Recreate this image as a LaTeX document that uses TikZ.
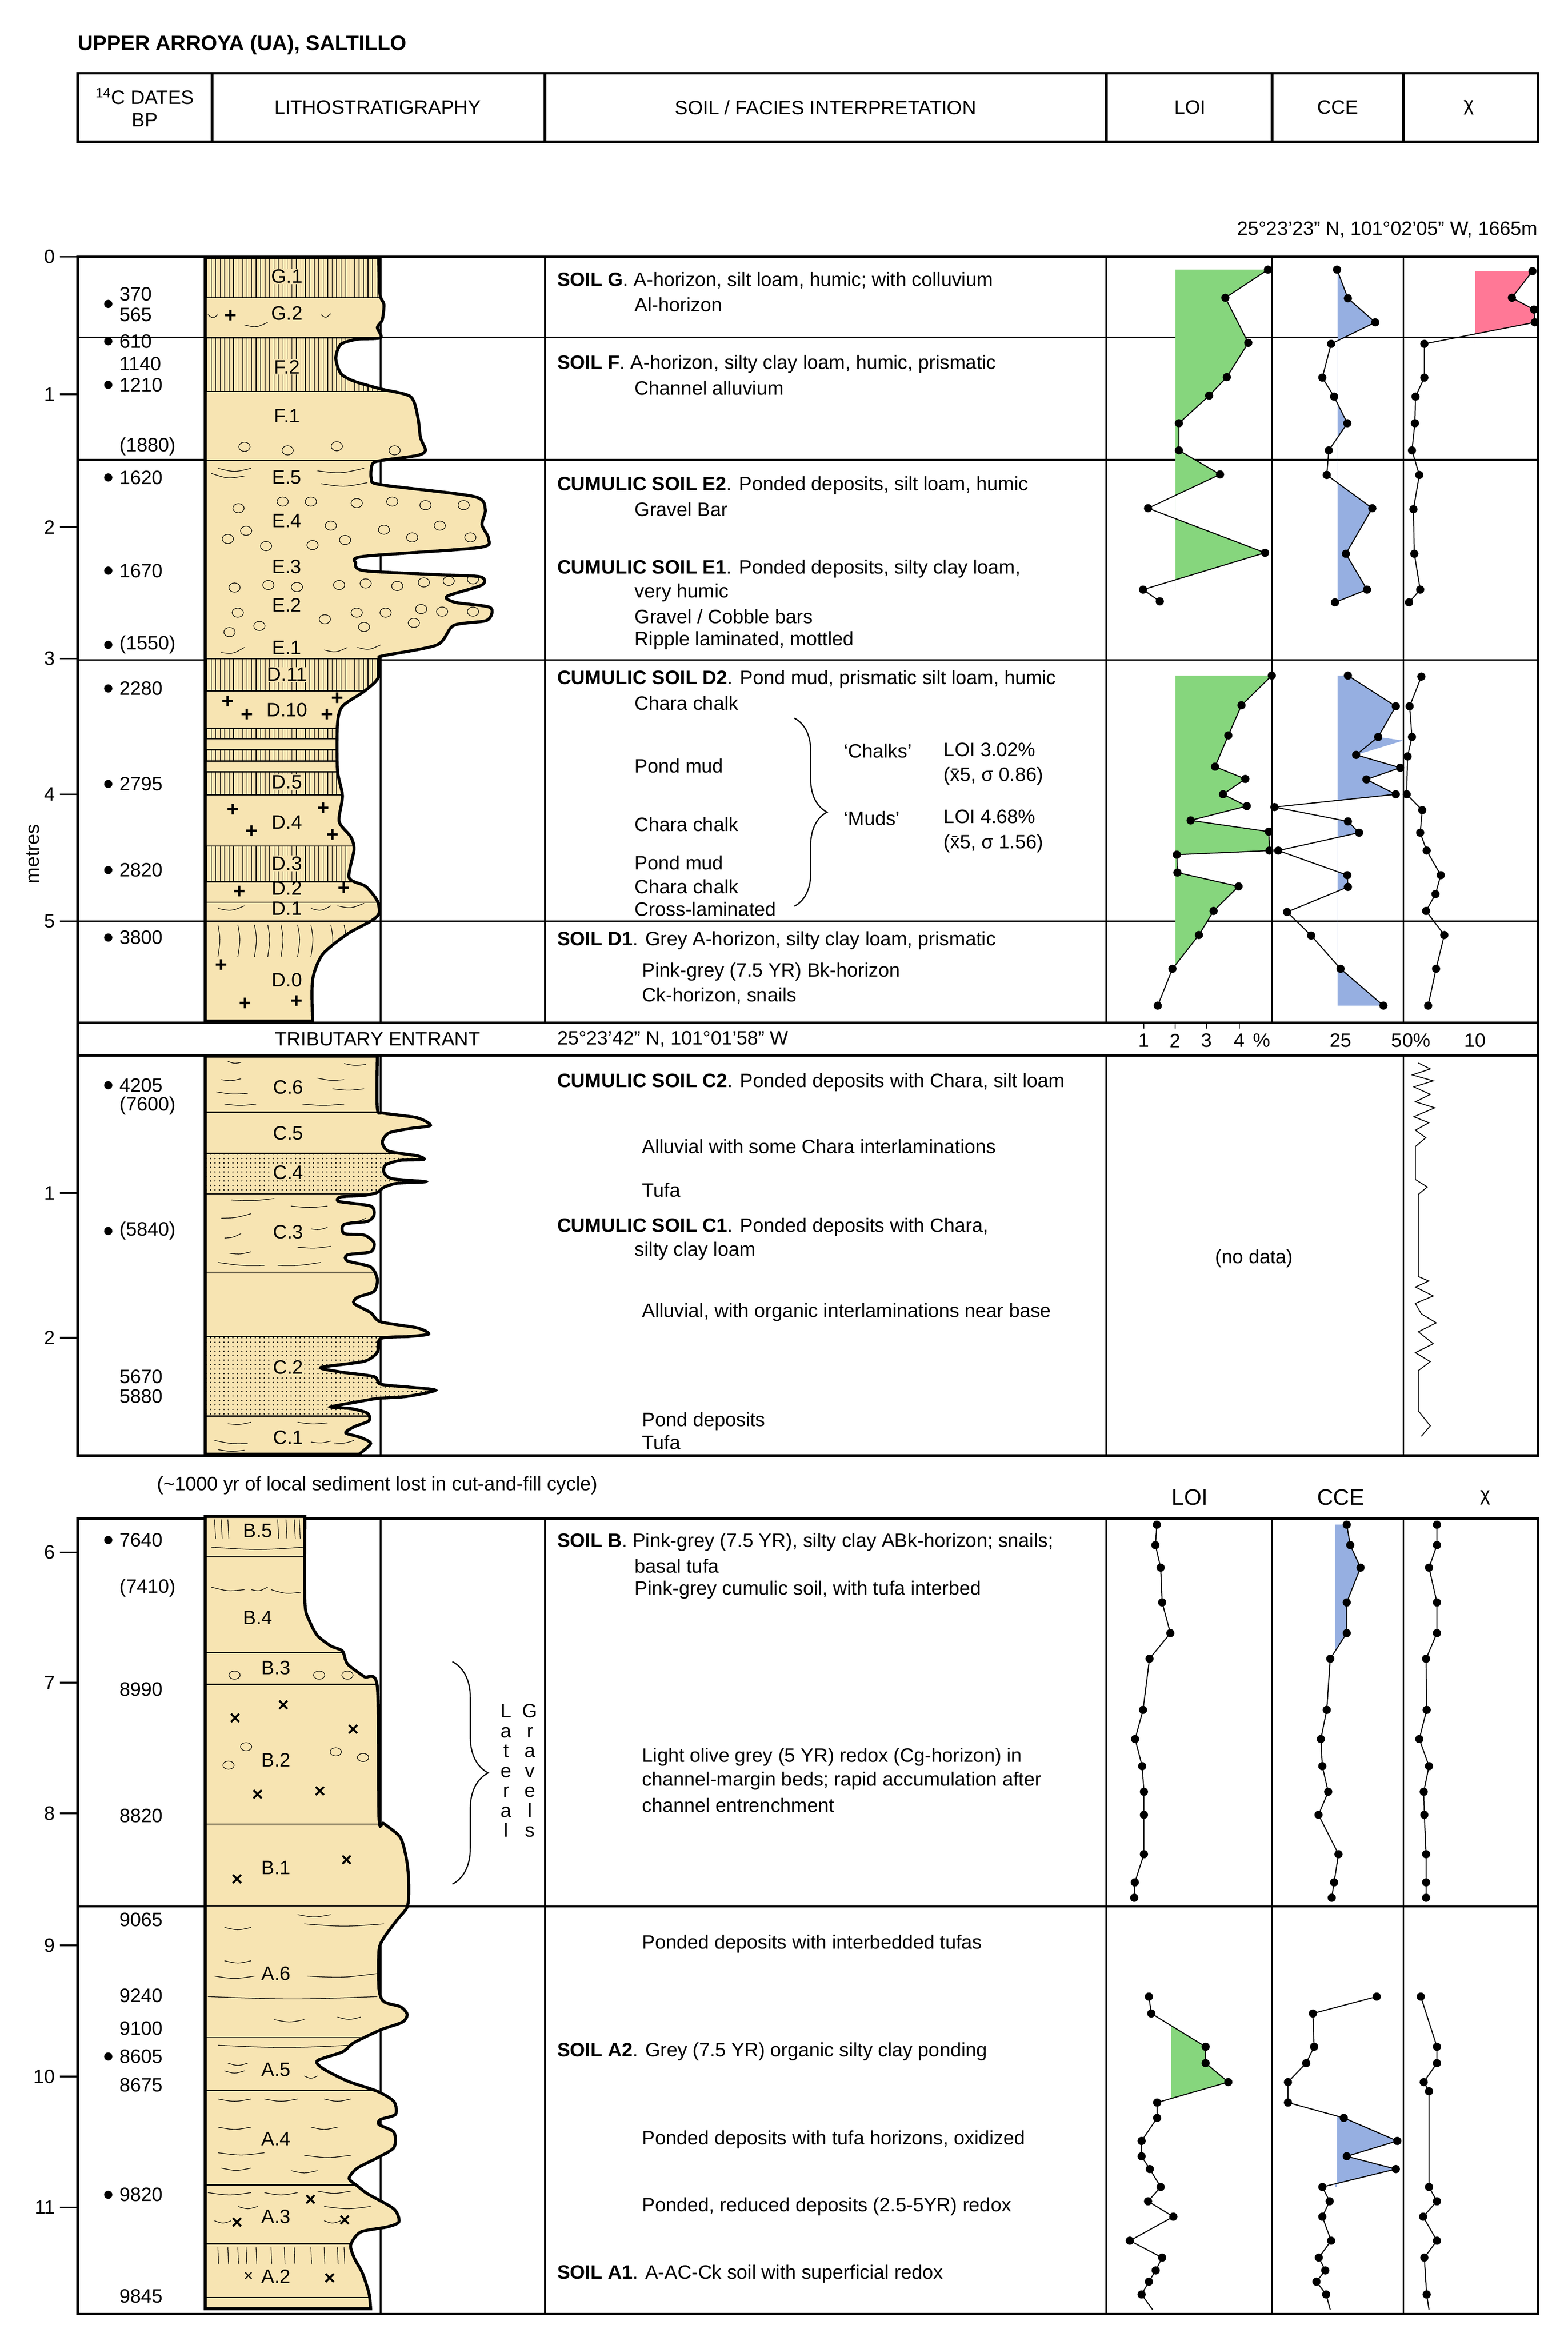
\documentclass[tikz,border=0pt]{standalone}
\usepackage{fontspec}
\setmainfont{Liberation Sans}
\usetikzlibrary{patterns,decorations.pathreplacing,calc}
\definecolor{sand}{RGB}{247,228,178}
\definecolor{gr}{RGB}{134,214,125}
\definecolor{bl}{RGB}{150,175,225}
\definecolor{pk}{RGB}{255,120,150}
\tikzset{
 zA/.style={shift={(43.6,162.8)},xscale=0.22247,yscale=0.34282},
 zB/.style={shift={(741,162.8)},xscale=0.19685,yscale=0.34282},
 zC/.style={shift={(741,1011.6)},xscale=0.19685,yscale=0.34282},
 zD/.style={shift={(43.6,1011.6)},xscale=0.22247,yscale=0.34282},
 zE/.style={shift={(43.6,677.3)},xscale=0.22247,yscale=0.20392},
 pl/.style={line width=0.7pt},
 dot/.style={circle,fill=black,inner sep=0pt,minimum size=5.5pt},
 frame/.style={line width=1.7pt},
 grd/.style={line width=1.1pt},
 lay/.style={line width=0.8pt},
 outl/.style={line width=2pt},
 t/.style={anchor=west,inner sep=0pt,font=\fontsize{13}{15}\selectfont},
 tc/.style={inner sep=0pt,font=\fontsize{13}{15}\selectfont},
 lab/.style={fill=sand,inner sep=0.6pt,font=\fontsize{13}{15}\selectfont},
 pls/.style={inner sep=0pt,font=\fontsize{14}{14}\selectfont\bfseries},
 crs/.style={inner sep=0pt,font=\fontsize{13}{13}\selectfont\bfseries},
 wv/.style={line width=0.4pt},
}
\newcommand\dl[2]{\draw[pl] #1 \foreach \q in {#2}{-- \q}; \foreach \q in {#1,#2} \node[dot] at \q {};}
\begin{document}
\begin{tikzpicture}[x=1pt,y=-1pt]
\useasboundingbox (0,0) rectangle (1050,1568);
\fill[white] (0,0) rectangle (1050,1568);
\node[t,font=\fontsize{14}{16}\selectfont\bfseries] (title) at (52,30) {UPPER ARROYA (UA), SALTILLO};
\draw[frame] (52,49) rectangle (1030,95);
\foreach \x in {142,365,741,852,940} \draw[frame] (\x,49) -- (\x,95);
\node[tc,align=center] (h1) at (97,72) {\textsuperscript{14}C DATES\\BP};
\node[tc] (h2) at (253,72) {LITHOSTRATIGRAPHY};
\node[tc] (h3) at (553,72) {SOIL / FACIES INTERPRETATION};
\node[tc] (h4) at (797,72) {LOI};
\node[tc] (h5) at (896,72) {CCE};
\node[tc] (h6) at (984,72) {χ};
\node[tc,anchor=east] (loc1) at (1030,154) {25°23'23" N, 101°02'05" W, 1665m};
\foreach \y in {226,308,442,617} \draw[grd] (52,\y) -- (1030,\y);
\foreach \x in {255,365,741,852,940} \draw[grd] (\x,172) -- (\x,685);
\draw[frame] (52,172) rectangle (1030,685);
\draw[frame] (52,685) rectangle (1030,707);
\foreach \y/\l in {172/0,264/1,353/2,441/3,532/4,617/5} {\draw[grd] (40,\y) -- (52,\y); \node[tc,anchor=east] at (37,\y) {\l};}
\node[tc,rotate=90] (metres) at (22,572) {metres};
\def\colA{(422,28) -- plot[smooth,tension=0.45] coordinates {(945,28) (948,100) (960,120) (955,150) (940,165) (950,185) (880,188) (830,198) (815,225) (830,255) (870,270) (950,285) (1040,300) (1062,340) (1070,380) (1085,405) (1060,415) (950,425) (925,432) (922,460) (950,472) (1230,495) (1265,520) (1255,550) (1275,578) (1245,595) (900,612) (875,625) (900,640) (1130,648) (1250,652) (1255,668) (1150,690) (1175,702) (1280,712) (1270,737) (1170,747) (1120,785) (960,806) (945,812) (942,850) (900,876) (835,905) (820,940) (820,1030) (835,1080) (825,1130) (860,1160) (870,1185) (855,1240) (905,1257) (940,1285) (945,1310) (920,1325) (850,1350) (775,1390) (745,1440) (745,1520)} -- (422,1520) -- cycle}
\begin{scope}[zA]
\fill[sand] \colA;
\begin{scope}
\clip \colA;
\foreach \a/\b in {28/107,185/290,812/875,948/968,990/1012,1033/1078,1178/1248}
  \fill[pattern=vertical lines] (422,\a) rectangle (1300,\b);
\foreach \y in {107,185,290,425,812,875,948,968,990,1012,1033,1078,1178,1248,1288,1325}
  \draw[lay] (422,\y) -- (1300,\y);
\foreach \p in {(540,398),(670,405),(818,397),(992,405),(522,518),(655,505),(740,505),(878,508),(985,505),(1085,512),(1200,512),(490,578),(545,562),(605,592),(745,590),(800,552),(843,580),(960,560),(1045,575),(1128,552),(1220,575),(510,673),(612,668),(698,672),(825,668),(905,665),(1000,670),(1080,663),(1155,660),(1228,657),(520,722),(585,748),(495,760),(782,735),(878,722),(965,722),(1050,742),(1135,720),(1228,720),(900,750),(1072,715)}
  \draw[wv] \p ellipse [x radius=17, y radius=9];
\foreach \a/\b/\c/\d in {440/450/540/455,460/440/560/440,760/445/900/440,770/470/910/468,430/140/460/140,540/160/610/155,770/140/800/138,470/800/540/790,780/795/850/790,880/790/950/785,460/1300/540/1295,740/1300/800/1295,820/1295/900/1290}
  \draw[wv] (\a,\b) .. controls ($(\a,\b)!0.5!(\c,\d)+(0,8)$) .. (\c,\d);
\foreach \x in {460,520,570,610,650,700,740,800,840}
  \draw[wv] (\x,1332) .. controls (\x+8,1360) .. (\x,1395);
\end{scope}
\draw[outl] \colA;
\foreach \n/\x/\y in {G.1/668/65,F.2/668/242,D.11/668/843,D.5/668/1053,D.3/668/1212}
  \node[lab] at (\x,\y) {\n};
\foreach \n/\x/\y in {G.2/668/137,F.1/668/338,E.5/668/458,E.4/668/543,E.3/668/632,E.2/668/707,E.1/668/790,D.10/668/912,D.4/668/1132,D.2/668/1260,D.1/668/1300,D.0/668/1440}
  \node[tc] at (\x,\y) {\n};
\foreach \p in {(498,143),(490,897),(548,922),(820,890),(788,922),(505,1108),(562,1150),(778,1105),(805,1157),(525,1268),(840,1262),(470,1412),(542,1487),(697,1482)}
  \node[pls] at \p {+};
\end{scope}
\foreach \y/\l in {197.1/370,210.8/565,228.6/610,243.7/1140,257.8/1210,299.2/(1880),319.8/1620,382.2/1670,431.9/(1550),461.1/2280,525.1/2795,582.8/2820,628/3800}
  \node[t] at (80,\y) {\l};
\foreach \y in {203.6,228.6,257.8,319.8,382.2,431.9,461.1,525.1,582.8,628}
  \node[dot] at (72.5,\y) {};
\begin{scope}[zB]
\begin{scope}
\clip (235,0) rectangle (565,1520);
\fill[gr] (235,52) \foreach \q in {(550,52),(405,107),(483,195),(410,262),(350,298),(247,352),(247,405),(387,452),(142,518),(540,605),(125,677)}{-- \q} -- (235,677) -- cycle;
\fill[gr] (230,845) \foreach \q in {(563,845),(460,903),(415,962),(370,1023),(473,1047),(397,1077),(478,1100),(287,1128),(553,1150),(555,1187),(240,1195),(242,1230),(450,1257),(365,1305),(315,1352),(225,1418)}{-- \q} -- (230,1418) -- cycle;
\end{scope}
\begin{scope}
\clip (787,0) rectangle (1015,1520);
\fill[bl] (787,52) \foreach \q in {(785,52),(822,108),(915,155),(765,197),(735,263),(775,300),(820,352),(757,405),(750,453),(905,518),(815,607),(887,677),(778,702)}{-- \q} -- (787,702) -- cycle;
\fill[bl] (787,845) \foreach \q in {(822,845),(985,905),(925,965),(1010,972),(850,1000),(1000,1025),(885,1048),(985,1077),(572,1102),(822,1130),(860,1152),(585,1187),(820,1235),(822,1258),(615,1307),(697,1353),(797,1418),(943,1490)}{-- \q} -- (787,1490) -- cycle;
\end{scope}
\begin{scope}
\clip (1255,0) rectangle (1460,300);
\fill[pk] (1255,55) \foreach \q in {(1450,55),(1380,107),(1455,130),(1458,155),(1082,197)}{-- \q} -- (1255,197) -- cycle;
\end{scope}
\dl{(550,52)}{(405,107),(483,195),(410,262),(350,298),(247,352),(247,405),(387,452),(142,518),(540,605),(125,677),(182,700)}
\dl{(563,845)}{(460,903),(415,962),(370,1023),(473,1047),(397,1077),(478,1100),(287,1128),(553,1150),(555,1187),(240,1195),(242,1230),(450,1257),(365,1305),(315,1352),(225,1418),(175,1490)}
\dl{(785,52)}{(822,108),(915,155),(765,197),(735,263),(775,300),(820,352),(757,405),(750,453),(905,518),(815,607),(887,677),(778,702)}
\dl{(822,845)}{(985,905),(925,965),(850,1000),(1000,1025),(885,1048),(985,1077),(572,1102),(822,1130),(860,1152),(585,1187),(820,1235),(822,1258),(615,1307),(697,1353),(797,1418),(943,1490)}
\dl{(1450,55)}{(1380,107),(1455,130),(1458,155),(1082,197),(1082,263),(1052,300),(1050,352),(1040,405),(1065,453),(1045,520),(1048,607),(1068,677),(1030,702)}
\dl{(1072,847)}{(1032,905),(1040,965),(1025,1003),(1022,1077),(1075,1108),(1068,1152),(1090,1187),(1138,1235),(1120,1272),(1088,1305),(1150,1352),(1122,1418),(1095,1490)}
\end{scope}
\node[t] at (373,188) {\textbf{SOIL G}. A-horizon, silt loam, humic; with colluvium};
\node[t] at (425,204) {Al-horizon};
\node[t] at (373,244) {\textbf{SOIL F}. A-horizon, silty clay loam, humic, prismatic};
\node[t] at (425,260) {Channel alluvium};
\node[t] at (373,325) {\textbf{CUMULIC SOIL E2}. Ponded deposits, silt loam, humic};
\node[t] at (425,341) {Gravel Bar};
\node[t] at (373,381) {\textbf{CUMULIC SOIL E1}. Ponded deposits, silty clay loam,};
\node[t] at (425,397) {very humic};
\node[t] at (425,413) {Gravel / Cobble bars};
\node[t] at (425,429) {Ripple laminated, mottled};
\node[t] at (373,455) {\textbf{CUMULIC SOIL D2}. Pond mud, prismatic silt loam, humic};
\node[t] at (425,471) {Chara chalk};
\node[t] at (425,513) {Pond mud};
\node[t] at (425,552) {Chara chalk};
\node[t] at (425,578) {Pond mud};
\node[t] at (425,594) {Chara chalk};
\node[t] at (425,609) {Cross-laminated};
\draw[line width=0.8pt,decorate,decoration={brace,amplitude=22pt}] (532,481) -- (532,607);
\node[t] at (565,503) {‘Chalks’};
\node[t] at (565,548) {‘Muds’};
\node[t] at (632,502) {LOI 3.02\%};
\node[t] at (632,520) {(x̄5, σ 0.86)};
\node[t] at (632,547) {LOI 4.68\%};
\node[t] at (632,565) {(x̄5, σ 1.56)};
\node[t] at (373,630) {\textbf{SOIL D1}. Grey A-horizon, silty clay loam, prismatic};
\node[t] at (430,651) {Pink-grey (7.5 YR) Bk-horizon};
\node[t] at (430,667) {Ck-horizon, snails};
\node[tc] at (253,696) {TRIBUTARY ENTRANT};
\node[t] at (373,696) {25°23'42" N, 101°01'58" W};
\foreach \x/\l in {766/1,787/2,808/3,830/4}{\node[tc] at (\x,697) {\l}; \draw[line width=0.6pt] (\x,685) -- (\x,689);}
\node[tc] at (845,697) {\%};
\node[tc] at (898,697) {25};
\node[tc] at (945,697) {50\%};
\node[tc] at (988,697) {10};
\draw[grd] (255,707) -- (255,975);
\draw[grd] (741,707) -- (741,975);
\draw[grd] (940,707) -- (940,975);
\draw[frame] (52,707) rectangle (1030,975);
\foreach \y/\l in {799/1,896/2} {\draw[grd] (40,\y) -- (52,\y); \node[tc,anchor=east] at (37,\y) {\l};}
\def\colB{(422,148) -- plot[smooth,tension=0.45] coordinates {(940,148) (940,320) (960,335) (1060,350) (1100,375) (1040,385) (975,400) (955,430) (975,460) (1060,475) (1080,487) (1010,490) (965,505) (960,530) (985,550) (1085,560) (1000,565) (960,578) (940,595) (900,605) (830,610) (825,625) (920,640) (930,670) (910,690) (840,700) (840,730) (900,735) (930,760) (920,790) (850,800) (850,820) (920,840) (940,880) (930,920) (880,940) (870,960) (920,990) (950,1020) (1060,1040) (1095,1060) (1040,1068) (950,1075) (940,1120) (900,1150) (770,1170) (830,1185) (930,1200) (950,1225) (1040,1235) (1115,1245) (1030,1265) (940,1272) (870,1285) (800,1300) (860,1305) (910,1320) (915,1345) (870,1365) (845,1385) (890,1400) (920,1420) (885,1455)} -- (422,1455) -- cycle}
\begin{scope}[zE]
\fill[sand] \colB;
\begin{scope}
\clip \colB;
\foreach \a/\b in {467/600,1068/1330} \fill[pattern=dots] (422,\a) rectangle (1300,\b);
\foreach \y in {332,467,600,857,1068,1330} \draw[lay] (422,\y) -- (1300,\y);
\foreach \a/\b/\c/\d in {490/165/530/168,840/172/905/175,470/225/530/222,760/220/840/225,455/265/550/270,805/255/900/255,480/305/575/305,715/305/840/305,500/620/630/615,680/640/790/640,470/680/560/665,740/715/790/710,860/690/905/680,480/745/530/730,700/775/800/772,495/795/560/790,460/825/600/835,640/835/770/825,490/1355/560/1350,700/1350/790/1352,450/1410/550/1420,740/1415/800/1412,810/1418/870/1410,460/1440/540/1442}
  \draw[wv] (\a,\b) .. controls ($(\a,\b)!0.5!(\c,\d)+(0,6)$) .. (\c,\d);
\end{scope}
\draw[outl] \colB;
\foreach \n/\y in {C.6/250,C.5/400,C.3/725,C.1/1400} \node[tc] at (672,\y) {\n};
\foreach \n/\y in {C.4/530,C.2/1170} \node[lab] at (672,\y) {\n};
\end{scope}
\foreach \y/\l in {726.9/4205,740.5/(7600),824.5/(5840),922/5670,935.3/5880} \node[t] at (80,\y) {\l};
\node[dot] at (72.5,726.9) {};
\node[dot] at (72.5,824.5) {};
\node[tc] (nodata) at (840,843) {(no data)};
\draw[line width=0.6pt] (950,712)--(958,716)--(946,720)--(960,724)--(947,728)--(958,733)--(948,738)--(961,742)--(947,748)--(957,752)--(948,757)--(955,762)--(948,768)--(948,790)--(956,795)--(950,800)--(950,855)--(957,858)--(948,862)--(960,868)--(948,873)--(952,880)--(962,886)--(950,892)--(960,900)--(948,906)--(958,912)--(950,918)--(950,945)--(958,955)--(952,962);
\node[t] at (373,725) {\textbf{CUMULIC SOIL C2}. Ponded deposits with Chara, silt loam};
\node[t] at (430,768) {Alluvial with some Chara interlaminations};
\node[t] at (430,797) {Tufa};
\node[t] at (373,822) {\textbf{CUMULIC SOIL C1}. Ponded deposits with Chara,};
\node[t] at (425,838) {silty clay loam};
\node[t] at (430,879) {Alluvial, with organic interlaminations near base};
\node[t] at (430,952) {Pond deposits};
\node[t] at (430,966) {Tufa};
\node[t] at (105,995) {(\textasciitilde 1000 yr of local sediment lost in cut-and-fill cycle)};
\node[tc,font=\fontsize{15}{15}\selectfont] at (797,1003) {LOI};
\node[tc,font=\fontsize{15}{15}\selectfont] at (898,1003) {CCE};
\node[tc] at (995,1003) {χ};
\draw[grd] (52,1277) -- (1030,1277);
\foreach \x in {255,365,741,852,940} \draw[grd] (\x,1017) -- (\x,1550);
\draw[frame] (52,1017) rectangle (1030,1550);
\foreach \y/\l in {1039.7/6,1127/7,1214.6/8,1303/9,1390.8/10,1478.5/11} {\draw[grd] (40,\y) -- (52,\y); \node[tc,anchor=east] at (37,\y) {\l};}
\def\colC{(422,12) -- plot[smooth,tension=0.45] coordinates {(722,12) (722,180) (735,215) (760,245) (800,265) (835,275) (850,300) (900,325) (940,345) (945,600) (960,612) (1010,640) (1030,690) (1035,740) (1030,775) (1000,800) (960,835) (945,860) (945,935) (960,960) (1010,970) (1030,985) (1015,1000) (950,1015) (870,1040) (835,1058) (760,1075) (775,1090) (850,1115) (940,1135) (990,1155) (995,1180) (950,1190) (945,1200) (990,1215) (990,1245) (940,1265) (880,1285) (855,1305) (880,1320) (910,1335) (990,1365) (1005,1390) (970,1400) (890,1410) (860,1435) (870,1460) (895,1490) (915,1530) (920,1560)} -- (422,1560) -- cycle}
\begin{scope}[zD]
\fill[sand] \colC;
\begin{scope}
\clip \colC;
\foreach \y in {90,278,340,613,773,1030,1133,1318,1433,1538} \draw[lay] (422,\y) -- (1300,\y);
\foreach \x in {450,470,490,640,665,690,705} \draw[wv] (\x,18) -- (\x+3,55);
\foreach \x in {460,490,520,545,575,620,660,690,740,780,820,840} \draw[wv] (\x,1440) -- (\x+2,1472);
\foreach \a/\b/\c/\d in {440/72/720/72,440/150/540/155,560/155/610/150,620/155/710/160,480/815/560/815,700/790/800/790,720/808/960/808,480/880/560/880,450/910/570/910,730/910/940/905,430/950/940/950,630/995/720/995,820/990/890/990,460/1045/860/1045,490/1080/550/1080,480/1095/540/1095,720/1105/760/1105,460/1150/560/1150,600/1150/700/1150,780/1150/860/1150,460/1205/560/1205,740/1205/820/1205,460/1255/600/1255,720/1260/860/1260,470/1285/560/1285,680/1290/760/1290,430/1333/560/1333,600/1333/700/1333,760/1330/860/1330,520/1360/580/1360,780/1360/920/1360,450/1388/500/1388,780/1388/830/1388}
  \draw[wv] (\a,\b) .. controls ($(\a,\b)!0.5!(\c,\d)+(0,6)$) .. (\c,\d);
\foreach \p in {(510,322),(765,322),(850,322),(545,462),(492,498),(815,472),(897,483)}
  \draw[wv] \p ellipse [x radius=17, y radius=8];
\end{scope}
\draw[outl] \colC;
\foreach \n/\x/\y in {B.5/580/40,B.4/580/210,B.3/635/308,B.2/635/488,B.1/635/698,A.6/635/905,A.5/635/1093,A.4/635/1228,A.3/635/1380,A.2/635/1497}
  \node[tc] at (\x,\y) {\n};
\foreach \p in {(512,408),(657,382),(868,430),(580,557),(767,550),(518,722),(848,685),(740,1348),(518,1393),(842,1388),(797,1502)}
  \node[crs] at \p {×};
\node[tc,font=\fontsize{11}{11}\selectfont] at (552,1497) {×};
\end{scope}
\foreach \y/\l in {1031.5/7640,1063.7/(7410),1131.6/8990,1216.3/8820,1285.8/9065,1336.6/9240,1358.5/9100,1377.4/8605,1396.4/8675,1470/9820,1537.8/9845}
  \node[t] at (80,\y) {\l};
\foreach \y in {1031.5,1377.4,1470} \node[dot] at (72.5,\y) {};
\draw[line width=0.8pt,decorate,decoration={brace,amplitude=24pt}] (303,1113) -- (303,1262);
\node[tc,align=center,font=\fontsize{13}{13.3}\selectfont] (lat) at (339,1186) {L\\a\\t\\e\\r\\a\\l};
\node[tc,align=center,font=\fontsize{13}{13.3}\selectfont] (grv) at (355,1186) {G\\r\\a\\v\\e\\l\\s};
\node[t] at (373,1033) {\textbf{SOIL B}. Pink-grey (7.5 YR), silty clay ABk-horizon; snails;};
\node[t] at (425,1049) {basal tufa};
\node[t] at (425,1065) {Pink-grey cumulic soil, with tufa interbed};
\node[t] at (430,1177) {Light olive grey (5 YR) redox (Cg-horizon) in};
\node[t] at (430,1193) {channel-margin beds; rapid accumulation after};
\node[t] at (430,1209) {channel entrenchment};
\node[t] at (430,1302) {Ponded deposits with interbedded tufas};
\node[t] at (373,1374) {\textbf{SOIL A2}. Grey (7.5 YR) organic silty clay ponding};
\node[t] at (430,1433) {Ponded deposits with tufa horizons, oxidized};
\node[t] at (430,1478) {Ponded, reduced deposits (2.5-5YR) redox};
\node[t] at (373,1523) {\textbf{SOIL A1}. A-AC-Ck soil with superficial redox};
\begin{scope}[zC]
\begin{scope}
\clip (220,0) rectangle (560,1560);
\fill[gr] (220,983) \foreach \q in {(153,983),(338,1048),(338,1080),(415,1117),(173,1157)}{-- \q} -- (220,1157) -- cycle;
\end{scope}
\begin{scope}
\clip (778,0) rectangle (1005,1560);
\fill[bl] (778,28) \foreach \q in {(818,28),(830,68),(865,112),(818,180),(818,240),(762,290)}{-- \q} -- (778,290) -- cycle;
\fill[bl] (785,1183.4) \foreach \q in {(808,1187),(990,1232),(818,1262),(985,1287),(735,1322)}{-- \q} -- (785,1322) -- cycle;
\end{scope}
\dl{(172,28)}{(167,68),(185,112),(190,180),(218,240),(147,290),(125,390),(98,447),(122,500),(128,550),(128,595),(128,672),(97,727),(95,757)}
\dl{(145,950)}{(153,983),(338,1048),(338,1080),(415,1117),(173,1157),(173,1187),(120,1232),(120,1262),(148,1287),(185,1322),(142,1350),(228,1380),(80,1427),(190,1460),(168,1485),(145,1507),(120,1532)}
\draw[pl] (120,1532) -- (158,1562);
\dl{(818,28)}{(830,68),(865,112),(818,180),(818,240),(762,290),(750,390),(730,447),(735,500),(755,550),(722,595),(790,672),(775,727),(767,757)}
\dl{(920,950)}{(703,983),(707,1048),(680,1080),(618,1117),(618,1157),(808,1187),(990,1232),(818,1262),(985,1287),(735,1322),(760,1350),(735,1380),(765,1427),(723,1460),(745,1485),(715,1507),(748,1532)}
\draw[pl] (748,1532) -- (762,1562);
\dl{(1125,28)}{(1125,68),(1098,112),(1125,180),(1125,240),(1088,290),(1090,390),(1065,447),(1098,500),(1080,550),(1082,595),(1088,672),(1088,727),(1088,757)}
\dl{(1070,950)}{(1125,1048),(1125,1080),(1080,1117),(1098,1135),(1098,1322),(1125,1350),(1078,1380),(1125,1427),(1082,1460),(1090,1532)}
\draw[pl] (1090,1532) -- (1098,1562);
\end{scope}
\end{tikzpicture}
\end{document}
